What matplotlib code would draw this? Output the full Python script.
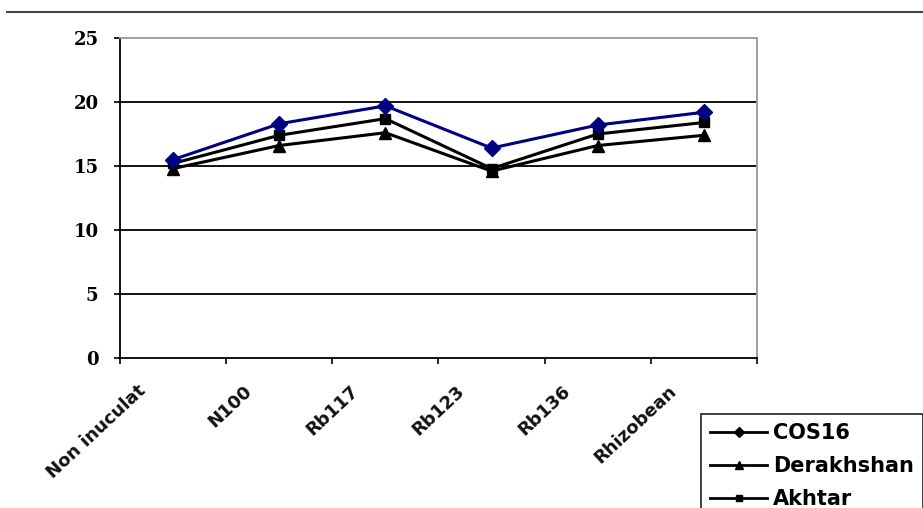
import matplotlib
matplotlib.use('Agg')
import matplotlib.pyplot as plt
from matplotlib.lines import Line2D

categories = ['Non inuculat', 'N100', 'Rb117', 'Rb123', 'Rb136', 'Rhizobean']
cos16 = [15.5, 18.3, 19.7, 16.4, 18.2, 19.2]
derakhshan = [14.8, 16.6, 17.6, 14.6, 16.6, 17.4]
akhtar = [15.2, 17.4, 18.7, 14.8, 17.5, 18.4]
series_names = ['COS16', 'Derakhshan', 'Akhtar']
yticks = [0, 5, 10, 15, 20, 25]

W, H = 923, 508
fig = plt.figure(figsize=(W / 100, H / 100), dpi=100)
ax = fig.add_axes([120 / W, 150 / H, 637 / W, 320 / H])

x = list(range(len(categories)))
ax.plot(x, cos16, color='#000080', marker='D', ms=8, lw=2.2, zorder=4)
ax.plot(x, akhtar, color='black', marker='s', ms=6.5, lw=2.2, zorder=3)
ax.plot(x, derakhshan, color='black', marker='^', ms=8, lw=2.2, zorder=3)

ax.set_xlim(-0.5, len(categories) - 0.5)
ax.set_ylim(0, 25)
ax.set_yticks(yticks)
ax.set_yticklabels([str(v) for v in yticks], family='DejaVu Serif',
                   fontweight='bold', fontsize=13)
ax.set_xticks([i - 0.5 for i in range(len(categories) + 1)])
ax.set_xticklabels([])
ax.tick_params(axis='both', direction='out', length=4.5, width=1.2, color='black')
ax.tick_params(axis='y', pad=11)

for v in yticks[1:-1]:
    ax.axhline(v, color='black', lw=1.3, zorder=1)

for s in ['left', 'bottom']:
    ax.spines[s].set_color('black')
    ax.spines[s].set_linewidth(1.3)
for s in ['top', 'right']:
    ax.spines[s].set_color('#999999')
    ax.spines[s].set_linewidth(1.3)

for i, c in enumerate(categories):
    ax.annotate(c, xy=(i, 0), xycoords=('data', 'axes fraction'),
                xytext=(-26, -17), textcoords='offset points',
                rotation=43, rotation_mode='anchor', ha='right', va='top',
                fontsize=13, fontweight='bold', family='DejaVu Sans',
                color='#111111', annotation_clip=False)

# top rule
fig.add_artist(Line2D([7 / W, 1.0], [1 - 12 / H, 1 - 12 / H],
                      transform=fig.transFigure, color='#444444', lw=1.5))

handles = [
    Line2D([], [], color='black', lw=2, marker='D', ms=5),
    Line2D([], [], color='black', lw=2, marker='^', ms=6),
    Line2D([], [], color='black', lw=2, marker='s', ms=5),
]
leg = fig.legend(handles, series_names, loc='upper left',
                 bbox_to_anchor=(701 / W, 1 - 414 / H),
                 bbox_transform=fig.transFigure, borderaxespad=0,
                 frameon=True, fancybox=False, edgecolor='black',
                 prop={'family': 'DejaVu Sans', 'weight': 'bold', 'size': 15},
                 handlelength=2.7, handletextpad=0.3, labelspacing=0.62,
                 borderpad=0.45)
leg.get_frame().set_linewidth(1.3)

fig.savefig('out.png', dpi=100)
